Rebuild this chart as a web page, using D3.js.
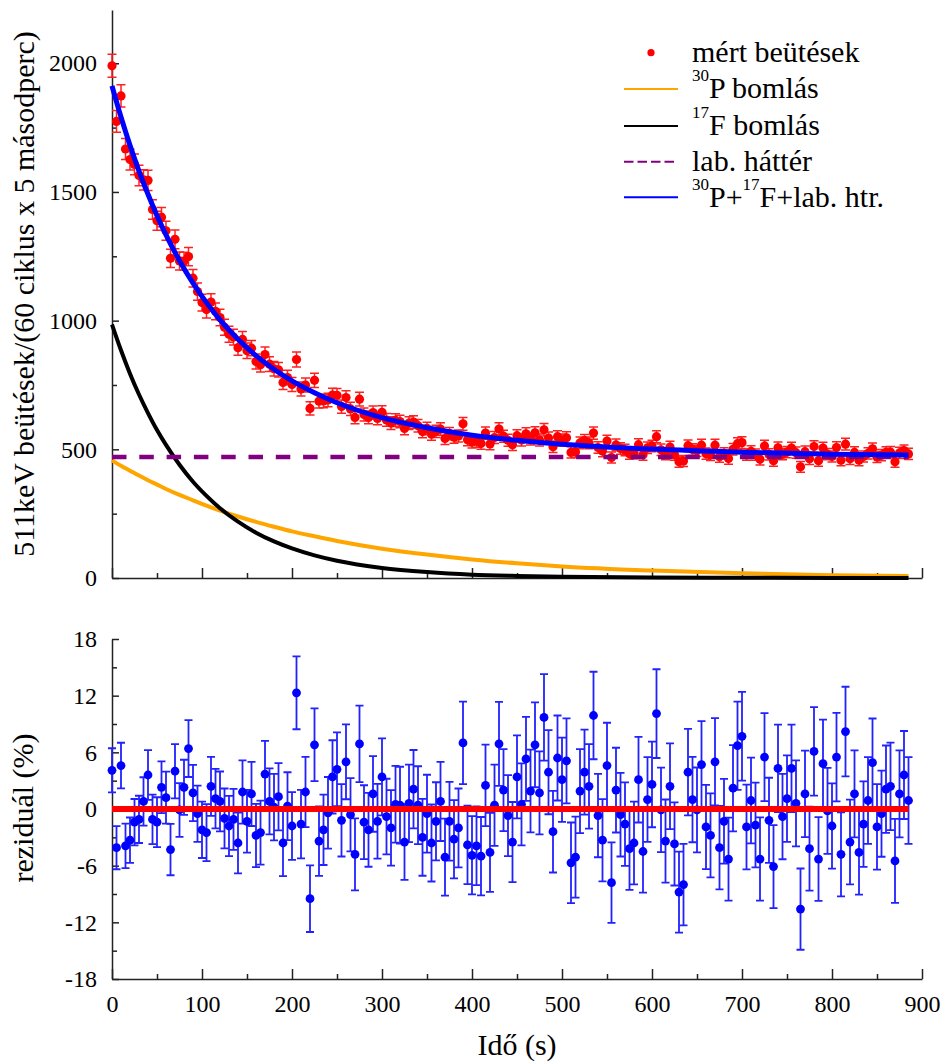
<!DOCTYPE html>
<html>
<head><meta charset="UTF-8"></head>
<body style="margin:0">
<div id="graph"></div>
<script src="https://cdn.jsdelivr.net/npm/d3@7"></script>
<script>
const WIDTH = 944;
const HEIGHT = 1062;
const FONT = '"Liberation Serif"';

// mérési idők (s), 5 s lépésekben
const TIMES = d3.range(0, 890, 5);

// mért beütések
const COUNTS = [
  1990, 1774, 1873, 1667, 1626, 1607, 1564, 1547, 1545, 1432,
  1388, 1402, 1349, 1242, 1316, 1232, 1231, 1249, 1165, 1113,
  1070, 1043, 1072, 1036, 1012, 974, 947, 936, 895, 927,
  883, 893, 841, 829, 868, 831, 813, 809, 760, 779,
  752, 849, 734, 750, 659, 768, 687, 688, 692, 711,
  710, 666, 701, 657, 624, 695, 635, 624, 643, 620,
  644, 614, 602, 613, 608, 581, 602, 606, 592, 569,
  581, 559, 570, 579, 542, 561, 547, 552, 599, 537,
  528, 531, 523, 563, 521, 546, 579, 551, 535, 518,
  553, 536, 560, 540, 564, 536, 576, 544, 510, 549,
  536, 545, 488, 490, 525, 534, 525, 563, 507, 493,
  532, 468, 517, 503, 497, 483, 485, 518, 479, 506,
  513, 549, 498, 481, 509, 479, 452, 455, 514, 499,
  494, 516, 483, 478, 516, 471, 484, 464, 500, 522,
  526, 479, 492, 479, 461, 513, 480, 456, 506, 481,
  489, 505, 487, 432, 491, 463, 511, 456, 505, 481,
  472, 507, 458, 520, 463, 488, 458, 472, 484, 502,
  470, 477, 488, 489, 452, 486, 495, 482
];

// reziduálok (%)
const RESIDUALS = [
  4.1, -4.1, 4.6, -3.9, -3.3, -1.4, -1.1, 0.8, 3.6, -1.1,
  -1.4, 2.3, 1.2, -4.3, 4.0, -0.1, 2.3, 6.4, 1.7, -0.5,
  -2.2, -2.5, 2.4, 1.1, 0.8, -1.0, -1.8, -1.1, -3.6, 1.8,
  -1.3, 1.6, -2.8, -2.5, 3.7, 0.8, 0.2, 1.3, -3.6, 0.3,
  -1.8, 12.3, -1.6, 1.8, -9.5, 6.8, -3.4, -2.2, -0.4, 3.4,
  4.2, -1.2, 5.0, -0.6, -4.8, 6.9, -1.4, -2.2, 1.6, -1.3,
  3.4, -0.8, -2.0, 0.5, 0.4, -3.5, 0.6, 2.1, 0.4, -3.0,
  -0.5, -3.6, -1.3, 0.8, -5.1, -1.3, -3.2, -2.0, 7.0, -3.8,
  -4.9, -3.9, -5.0, 2.5, -4.6, 0.4, 6.9, 2.0, -0.7, -3.5,
  3.4, 0.5, 5.3, 1.9, 6.8, 1.7, 9.7, 3.9, -2.4, 5.4,
  3.1, 5.1, -5.7, -5.1, 1.9, 3.9, 2.4, 9.9, -0.7, -3.3,
  4.6, -7.8, 2.0, -0.6, -1.6, -4.2, -3.6, 3.1, -4.5, 1.0,
  2.6, 10.1, -0.1, -3.4, 2.4, -3.7, -8.8, -8.0, 3.9, 1.0,
  -0.1, 4.7, -1.9, -2.8, 5.0, -4.1, -1.3, -5.3, 2.2, 6.7,
  7.7, -1.9, 0.9, -1.7, -5.3, 5.5, -1.2, -6.1, 4.3, -0.8,
  1.1, 4.3, 0.6, -10.6, 1.6, -4.2, 6.1, -5.3, 4.8, -0.2,
  -1.8, 5.5, -4.8, 8.2, -3.5, 1.6, -4.6, -1.6, 0.9, 4.9,
  -1.9, -0.5, 2.1, 2.4, -5.5, 1.6, 3.6, 0.9
];

// illesztett görbék, leolvasott pontokban
const FIT_TIMES = [0, 10, 20, 30, 40, 50, 60, 75, 90, 105, 120, 140, 160, 180, 200, 225, 250, 300, 350, 400, 450, 500, 600, 700, 800, 885];
const P30 = [457, 436, 417, 398, 380, 363, 346, 323, 302, 281, 262, 239, 218, 199, 181, 162, 144, 114, 91, 72, 57, 45, 29, 18, 11, 8];
const F17 = [985, 885, 794, 713, 641, 575, 517, 440, 374, 319, 271, 219, 176, 142, 115, 88, 67, 39, 23, 13, 8, 5, 2, 1, 0, 0];
const TOTAL = [1912, 1791, 1681, 1581, 1491, 1408, 1333, 1233, 1146, 1070, 1003, 928, 864, 811, 766, 720, 681, 623, 584, 555, 535, 520, 501, 489, 481, 478];
const BACKGROUND = 470;

const Y_TICKS = [0, 500, 1000, 1500, 2000];
const Y_MINOR = [250, 750, 1250, 1750];
const RES_TICKS = [-18, -12, -6, 0, 6, 12, 18];
const RES_MINOR = [-15, -9, -3, 3, 9, 15];
const X_TICKS = [0, 100, 200, 300, 400, 500, 600, 700, 800, 900];
const X_MINOR = [50, 150, 250, 350, 450, 550, 650, 750, 850];

const points = TIMES.map((t, i) => ({ t: t, n: COUNTS[i], r: RESIDUALS[i] }));

const x = d3.scaleLinear().domain([0, 900]).range([112, 922]);
const yTop = d3.scaleLinear().domain([0, 2207]).range([578, 10]);
const yRes = d3.scaleLinear().domain([-18, 18]).range([979, 639]);

const svg = d3.select("#graph")
  .append("svg")
  .attr("width", WIDTH)
  .attr("height", HEIGHT);

function styleAxis(g) {
  g.attr("font-family", "Liberation Serif");
  g.selectAll("path, line").attr("stroke", "#222").attr("stroke-width", 1.5);
  g.selectAll("text").attr("fill", "#000").attr("font-size", 24);
}

function drawAxes(yScale, yMajor, yMinor, yBase, labelsX) {
  const fmt = d => String(d);
  svg.append("g")
    .attr("transform", "translate(112,0)")
    .call(d3.axisLeft(yScale).tickValues(yMajor).tickSize(-7).tickSizeOuter(0).tickPadding(15).tickFormat(fmt))
    .call(styleAxis);
  svg.append("g")
    .attr("transform", "translate(112,0)")
    .call(d3.axisLeft(yScale).tickValues(yMinor).tickSize(-5).tickSizeOuter(0).tickFormat(""))
    .call(g => g.select(".domain").remove())
    .call(styleAxis);
  svg.append("g")
    .attr("transform", `translate(0,${yBase})`)
    .call(d3.axisBottom(x).tickValues(X_TICKS).tickSize(-10).tickSizeOuter(0).tickPadding(16)
      .tickFormat(labelsX ? fmt : ""))
    .call(styleAxis);
  svg.append("g")
    .attr("transform", `translate(0,${yBase})`)
    .call(d3.axisBottom(x).tickValues(X_MINOR).tickSize(-5).tickSizeOuter(0).tickFormat(""))
    .call(g => g.select(".domain").remove())
    .call(styleAxis);
}

drawAxes(yTop, Y_TICKS, Y_MINOR, 578, false);
drawAxes(yRes, RES_TICKS, RES_MINOR, 979, true);

// felső panel: mért pontok
const topPanel = svg.append("g");
topPanel.selectAll(".ebar")
  .data(points)
  .enter()
  .append("path")
  .attr("d", d => {
    const cx = x(d.t), lo = yTop(d.n - Math.sqrt(d.n)), hi = yTop(d.n + Math.sqrt(d.n));
    return `M${cx},${lo}V${hi}M${cx - 4.5},${lo}H${cx + 4.5}M${cx - 4.5},${hi}H${cx + 4.5}`;
  })
  .attr("stroke", "#ff2020")
  .attr("stroke-width", 1.5)
  .attr("fill", "none");

topPanel.selectAll("circle")
  .data(points)
  .enter()
  .append("circle")
  .attr("cx", d => x(d.t))
  .attr("cy", d => yTop(d.n))
  .attr("r", 4.6)
  .attr("fill", "#ff0000");

const fitLine = vals => d3.line()
  .x((d, i) => x(FIT_TIMES[i]))
  .y(d => yTop(d))
  .curve(d3.curveMonotoneX)(vals);

topPanel.append("path").attr("d", fitLine(P30))
  .attr("fill", "none").attr("stroke", "#ffa500").attr("stroke-width", 4);
topPanel.append("path").attr("d", fitLine(F17))
  .attr("fill", "none").attr("stroke", "#000").attr("stroke-width", 4);
topPanel.append("line")
  .attr("x1", x(0)).attr("x2", x(885))
  .attr("y1", yTop(BACKGROUND)).attr("y2", yTop(BACKGROUND))
  .attr("stroke", "#800080").attr("stroke-width", 4.5)
  .attr("stroke-dasharray", "14.5,12.8");
topPanel.append("path").attr("d", fitLine(TOTAL))
  .attr("fill", "none").attr("stroke", "#0000ff").attr("stroke-width", 5);

// alsó panel: reziduálok
const bottomPanel = svg.append("g");
bottomPanel.selectAll(".rbar")
  .data(points)
  .enter()
  .append("path")
  .attr("d", d => {
    const e = (100 + d.r) / Math.sqrt(d.n);
    const cx = x(d.t), lo = yRes(d.r - e), hi = yRes(d.r + e);
    return `M${cx},${lo}V${hi}M${cx - 4},${lo}H${cx + 4}M${cx - 4},${hi}H${cx + 4}`;
  })
  .attr("stroke", "#2222ff")
  .attr("stroke-width", 1.8)
  .attr("fill", "none");

bottomPanel.selectAll("circle")
  .data(points)
  .enter()
  .append("circle")
  .attr("cx", d => x(d.t))
  .attr("cy", d => yRes(d.r))
  .attr("r", 4.4)
  .attr("fill", "#0000ff");

bottomPanel.append("line")
  .attr("x1", x(0)).attr("x2", x(885))
  .attr("y1", yRes(0)).attr("y2", yRes(0))
  .attr("stroke", "#ff0000").attr("stroke-width", 6);

// tengelyfeliratok
svg.append("text")
  .attr("transform", "translate(34,294) rotate(-90)")
  .attr("text-anchor", "middle")
  .attr("font-size", 30)
  .text("511keV beütések/(60 ciklus x 5 másodperc)");

svg.append("text")
  .attr("transform", "translate(33,808) rotate(-90)")
  .attr("text-anchor", "middle")
  .attr("font-size", 30)
  .text("reziduál (%)");

svg.append("text")
  .attr("x", 517)
  .attr("y", 1055)
  .attr("text-anchor", "middle")
  .attr("font-size", 30)
  .text("Idő (s)");

// jelmagyarázat
const legend = svg.append("g").attr("font-size", 30);
legend.append("circle").attr("cx", 651).attr("cy", 52.7).attr("r", 3.6).attr("fill", "#ff0000");
legend.append("text").attr("x", 692).attr("y", 62).text("mért beütések");

const legendRows = [
  { y: 89, color: "#ffa500", dash: null, parts: [["30", true], ["P bomlás", false]] },
  { y: 126, color: "#000", dash: null, parts: [["17", true], ["F bomlás", false]] },
  { y: 161.7, color: "#800080", dash: "9.5,4", parts: [["lab. háttér", false]] },
  { y: 197.3, color: "#0000ff", dash: null, parts: [["30", true], ["P+", false], ["17", true], ["F+lab. htr.", false]] }
];

legendRows.forEach(row => {
  legend.append("line")
    .attr("x1", 624).attr("x2", 678)
    .attr("y1", row.y).attr("y2", row.y)
    .attr("stroke", row.color).attr("stroke-width", 2)
    .attr("stroke-dasharray", row.dash);
  const txt = legend.append("text").attr("x", 692).attr("y", row.y + 9.3);
  let raised = false;
  row.parts.forEach(([s, sup]) => {
    const ts = txt.append("tspan").text(s);
    if (sup) {
      ts.attr("font-size", 17).attr("dy", raised ? 0 : -17);
      raised = true;
    } else {
      ts.attr("dy", raised ? 17 : 0);
      raised = false;
    }
  });
});

svg.selectAll("text")
  .attr("font-family", "Liberation Serif")
  .style("font-family", FONT);
</script>
</body>
</html>
